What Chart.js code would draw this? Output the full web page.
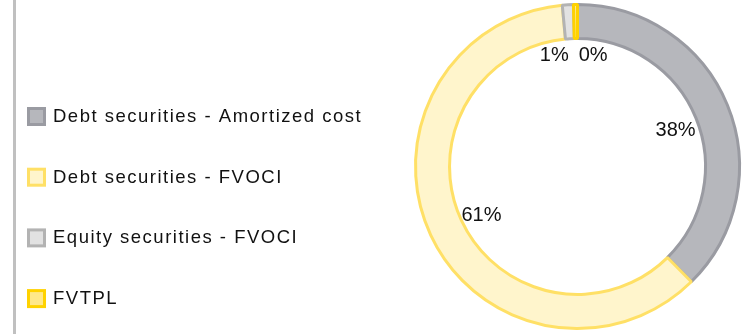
<!DOCTYPE html>
<html>
<head>
<meta charset="utf-8">
<script src="https://cdn.jsdelivr.net/npm/chart.js@4/dist/chart.umd.min.js"></script>
<style>
  html, body { margin: 0; padding: 0; background: #fff; }
  #wrap { width: 753px; height: 334px; position: relative; }
</style>
</head>
<body>
<div id="wrap"><canvas id="chart"></canvas></div>
<script>
const labels = [
  "Debt securities - Amortized cost",
  "Debt securities - FVOCI",
  "Equity securities - FVOCI",
  "FVTPL"
]
const shares = [37.6, 60.9, 1.1, 0.4]
const pctLabels = ["38%", "61%", "1%", "0%"]

const fills = ["#b6b7bc", "#fff5cc", "#e2e2e2", "#ffe88a"]
const borders = ["#9a9ba2", "#ffe066", "#b3b3b3", "#ffd200"]

const FONT = "'Liberation Sans', Arial, sans-serif"

// left rule + legend drawn on canvas
const sideLegend = {
  id: "sideLegend",
  afterDraw(chart) {
    const ctx = chart.ctx
    ctx.save()
    ctx.fillStyle = "#c0c0c0"
    ctx.fillRect(13, 0, 3, chart.height)

    ctx.font = "18.5px " + FONT
    ctx.letterSpacing = "1.5px"
    ctx.textBaseline = "middle"
    chart.data.labels.forEach((lab, i) => {
      const y = 116 + i * 60.7
      ctx.fillStyle = borders[i]
      ctx.fillRect(27, y - 9, 19, 19)
      ctx.fillStyle = fills[i]
      ctx.fillRect(30, y - 6, 13, 13)
      ctx.fillStyle = "#111"
      ctx.fillText(lab, 53, y + 1)
    })
    ctx.restore()
  }
}

// percentage labels just inside the hole
const pctPlugin = {
  id: "pctPlugin",
  afterDatasetsDraw(chart) {
    const ctx = chart.ctx
    const arcs = chart.getDatasetMeta(0).data
    ctx.save()
    ctx.font = "20px " + FONT
    ctx.fillStyle = "#111"
    ctx.textBaseline = "middle"
    ctx.textAlign = "center"
    const pos = arcs.map((a, i) => {
      const mid = (a.startAngle + a.endAngle) / 2
      const r = a.innerRadius - 22
      const up = Math.pow(Math.max(0, -Math.sin(mid)), 4)
      return {
        x: a.x + Math.cos(mid) * r,
        y: a.y + Math.sin(mid) * r + 4 - 9 * up,
        w: ctx.measureText(pctLabels[i]).width
      }
    })
    // push apart labels that collide
    for (let i = 1; i < pos.length; i++) {
      const p = pos[i - 1], q = pos[i]
      if (Math.abs(p.y - q.y) < 20) {
        const need = (p.w + q.w) / 2 + 10 - Math.abs(q.x - p.x)
        if (need > 0) {
          const s = q.x >= p.x ? 1 : -1
          p.x -= s * need / 2
          q.x += s * need / 2
        }
      }
    }
    pos.forEach((p, i) => ctx.fillText(pctLabels[i], p.x, p.y))
    ctx.restore()
  }
}

new Chart(document.getElementById("chart"), {
  type: "doughnut",
  data: {
    labels: labels,
    datasets: [{
      data: shares,
      backgroundColor: fills,
      borderColor: borders,
      borderWidth: 3,
      hoverOffset: 0
    }]
  },
  options: {
    responsive: true,
    maintainAspectRatio: false,
    animation: false,
    cutout: "79%",
    layout: { padding: { left: 413, right: 11, top: 3, bottom: 4 } },
    plugins: {
      legend: { display: false },
      tooltip: { enabled: false }
    }
  },
  plugins: [sideLegend, pctPlugin]
})
</script>
</body>
</html>
